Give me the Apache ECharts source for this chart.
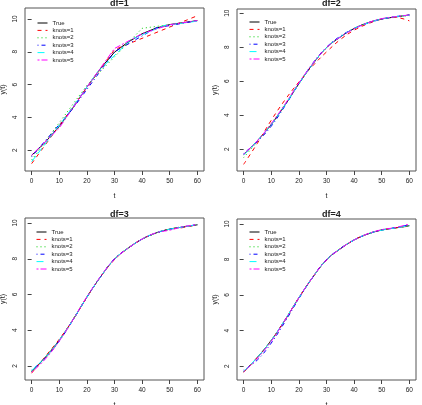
<!DOCTYPE html>
<html>
<head>
<meta charset="utf-8">
<script src="https://cdn.jsdelivr.net/npm/echarts@6/dist/echarts.min.js"></script>
<style>
	html, body { margin: 0; padding: 0; background: #fff; }
	#chart { width: 422px; height: 405px; }
</style>
</head>
<body>
<div id="chart"></div>
<script>
	// time grid shared by the smooth fits
	var tGrid = [0, 5, 10, 15, 20, 25, 30, 35, 40, 45, 50, 55, 60];
	var trueY = [1.68, 2.5, 3.45, 4.6, 5.85, 7.0, 7.98, 8.6, 9.1, 9.44, 9.66, 9.78, 9.9];

	var xTicks = [0, 10, 20, 30, 40, 50, 60];
	var yTicks = [2, 4, 6, 8, 10];
	var panelTitles = ['df=1', 'df=2', 'df=3', 'df=4'];
	var seriesNames = ['True', 'knots=1', 'knots=2', 'knots=3', 'knots=4', 'knots=5'];

	/* df=1 : piecewise linear, values at the knots */
	var df1K1T = [0, 30, 60];
	var df1K1Y = [1.18, 8.13, 10.2];
	var df1K2T = [0, 20, 40, 60];
	var df1K2Y = [1.4, 5.95, 9.43, 9.88];
	var df1K3T = [0, 15, 30, 45, 60];
	var df1K3Y = [1.6, 4.55, 8.0, 9.45, 9.9];
	var df1K4T = [0, 12, 24, 36, 48, 60];
	var df1K4Y = [1.3, 3.95, 6.8, 8.75, 9.6, 9.87];
	var df1K5T = [0, 10, 20, 30, 40, 50, 60];
	var df1K5Y = [1.7, 3.35, 5.85, 8.2, 9.1, 9.65, 9.9];

	/* df=2 */
	var df2K1Y = [1.1, 2.35, 3.7, 4.9, 5.95, 6.9, 7.72, 8.45, 9.0, 9.38, 9.65, 9.75, 9.55];
	var df2K2Y = [1.5, 2.45, 3.5, 4.65, 5.85, 7.0, 7.95, 8.6, 9.1, 9.45, 9.65, 9.8, 9.85];
	var df2K3Y = [1.75, 2.45, 3.35, 4.55, 5.85, 7.05, 8.0, 8.65, 9.1, 9.42, 9.65, 9.8, 9.9];
	var df2K4Y = [1.65, 2.5, 3.45, 4.6, 5.85, 7.0, 7.98, 8.62, 9.1, 9.43, 9.66, 9.8, 9.88];
	var df2K5Y = [1.7, 2.5, 3.5, 4.65, 5.9, 7.02, 7.97, 8.6, 9.08, 9.44, 9.68, 9.8, 9.9];

	/* df=3 */
	var df3K1Y = [1.6, 2.55, 3.5, 4.6, 5.85, 7.0, 7.95, 8.6, 9.1, 9.45, 9.65, 9.75, 9.9];
	var df3K2Y = [1.72, 2.45, 3.42, 4.62, 5.87, 7.0, 7.98, 8.62, 9.08, 9.42, 9.66, 9.8, 9.88];
	var df3K3Y = [1.78, 2.45, 3.4, 4.58, 5.85, 7.0, 8.0, 8.6, 9.1, 9.44, 9.65, 9.78, 9.92];
	var df3K4Y = [1.75, 2.5, 3.45, 4.6, 5.85, 7.0, 7.98, 8.6, 9.1, 9.45, 9.65, 9.78, 9.9];
	var df3K5Y = [1.65, 2.4, 3.4, 4.6, 5.87, 7.02, 7.98, 8.6, 9.1, 9.45, 9.6, 9.8, 9.9];

	/* df=4 */
	var df4K1Y = [1.65, 2.5, 3.45, 4.6, 5.85, 7.0, 7.98, 8.6, 9.1, 9.45, 9.66, 9.78, 9.88];
	var df4K2Y = [1.7, 2.5, 3.45, 4.6, 5.85, 7.0, 7.98, 8.62, 9.1, 9.43, 9.66, 9.78, 9.9];
	var df4K3Y = [1.78, 2.35, 3.3, 4.5, 5.8, 7.0, 8.0, 8.62, 9.1, 9.44, 9.66, 9.8, 9.95];
	var df4K4Y = [1.7, 2.5, 3.45, 4.62, 5.85, 7.0, 7.98, 8.6, 9.1, 9.45, 9.65, 9.78, 9.9];
	var df4K5Y = [1.68, 2.45, 3.4, 4.6, 5.85, 7.0, 7.98, 8.6, 9.1, 9.45, 9.68, 9.8, 10.0];

	// R style colours / lty
	var colors = ['#000000', '#FF0000', '#00CD00', '#0000FF', '#00FFFF', '#FF00FF'];
	var dashes = ['solid', [4, 4], [1, 3], [1, 3, 4, 3], [7, 3], [2, 2, 6, 2]];

	var grids = [
		{ left: 25, top: 8, width: 179, height: 163 },
		{ left: 237, top: 9, width: 179, height: 162 },
		{ left: 25, top: 218, width: 179, height: 162 },
		{ left: 237, top: 219, width: 179, height: 161 }
	];
	var yRanges = [[0.73, 10.67], [0.71, 10.25], [1.22, 10.28], [1.22, 10.28]];
	var titleTops = [-6, -6, 205, 205];
	var legendPos = [[37, 20], [249, 19], [36, 229], [249, 229]];

	var panelData = [
		[[tGrid, trueY], [df1K1T, df1K1Y], [df1K2T, df1K2Y], [df1K3T, df1K3Y], [df1K4T, df1K4Y], [df1K5T, df1K5Y]],
		[[tGrid, trueY], [tGrid, df2K1Y], [tGrid, df2K2Y], [tGrid, df2K3Y], [tGrid, df2K4Y], [tGrid, df2K5Y]],
		[[tGrid, trueY], [tGrid, df3K1Y], [tGrid, df3K2Y], [tGrid, df3K3Y], [tGrid, df3K4Y], [tGrid, df3K5Y]],
		[[tGrid, trueY], [tGrid, df4K1Y], [tGrid, df4K2Y], [tGrid, df4K3Y], [tGrid, df4K4Y], [tGrid, df4K5Y]]
	];

	function pairs(xs, ys) {
		var out = [];
		for (var i = 0; i < xs.length; i++) out.push([xs[i], ys[i]]);
		return out;
	}

	var font = 'Liberation Sans, Arial, sans-serif';
	var option = {
		animation: false,
		backgroundColor: '#fff',
		title: [], grid: [], xAxis: [], yAxis: [], legend: [], series: []
	};

	for (var p = 0; p < 4; p++) {
		var g = grids[p];
		option.grid.push({
			left: g.left, top: g.top, width: g.width, height: g.height,
			show: true, borderColor: '#555', borderWidth: 1,
			outerBoundsMode: 'none', containLabel: false
		});
		option.title.push({
			text: panelTitles[p],
			left: g.left + g.width / 2,
			textAlign: 'center',
			top: titleTops[p],
			textStyle: { fontFamily: font, fontSize: 9, fontWeight: 'bold', color: '#222' }
		});
		option.xAxis.push({
			type: 'value', gridIndex: p, min: -2.4, max: 62.4,
			name: 't', nameLocation: 'middle', nameGap: 22,
			nameTextStyle: { fontFamily: font, fontSize: 7, color: '#222' },
			axisLine: { show: false },
			splitLine: { show: false },
			axisTick: { show: true, inside: false, length: 4, customValues: xTicks, lineStyle: { color: '#444' } },
			axisLabel: { customValues: xTicks, margin: 7, fontFamily: font, fontSize: 6.5, color: '#222' }
		});
		option.yAxis.push({
			type: 'value', gridIndex: p, min: yRanges[p][0], max: yRanges[p][1],
			name: 'y(t)', nameLocation: 'middle', nameGap: 18,
			nameTextStyle: { fontFamily: font, fontSize: 7, color: '#222' },
			axisLine: { show: false },
			splitLine: { show: false },
			axisTick: { show: true, inside: false, length: 4, customValues: yTicks, lineStyle: { color: '#444' } },
			axisLabel: { customValues: yTicks, rotate: 90, margin: 6, fontFamily: font, fontSize: 6.5, color: '#222' }
		});
		// legend symbol hidden, only the line sample is kept
		option.legend.push({
			show: true,
			orient: 'vertical', left: legendPos[p][0], top: legendPos[p][1],
			data: seriesNames, itemWidth: 10, itemHeight: 6, itemGap: 1.4,
			selectedMode: false,
			itemStyle: { opacity: 0 },
			lineStyle: { width: 1 },
			textStyle: { fontFamily: font, fontSize: 6, color: '#222' },
			padding: 0
		});
		for (var s = 0; s < 6; s++) {
			option.series.push({
				type: 'line', name: seriesNames[s],
				xAxisIndex: p, yAxisIndex: p,
				data: pairs(panelData[p][s][0], panelData[p][s][1]),
				smooth: p === 0 ? false : 0.4,
				showSymbol: false, symbol: 'none',
				z: s === 0 ? 2 : 3,
				lineStyle: { color: colors[s], width: 1, type: dashes[s] },
				itemStyle: { color: colors[s] }
			});
		}
	}

	var myChart = echarts.init(document.getElementById('chart'), null, { renderer: 'canvas' });
	myChart.setOption(option);
</script>
</body>
</html>
